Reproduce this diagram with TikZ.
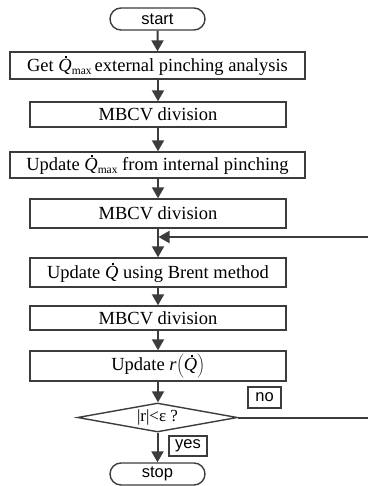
\documentclass[tikz,border=0pt]{standalone}
\usepackage{fontspec}
\setmainfont{Liberation Serif}
\newfontfamily\lsans{Liberation Sans}
\usetikzlibrary{shapes.geometric,shapes.misc,arrows.meta}
\definecolor{ink}{HTML}{3C3C3C}
\newcommand{\Qd}{\hbox{\itshape\rlap{\hspace{0.37em}\raisebox{0.74em}{\rule{0.1em}{0.1em}}}Q}}
\newcommand{\Qmax}{\Qd\raisebox{-0.35ex}{\fontsize{11.5}{12}\selectfont max}}
\begin{document}
\begin{tikzpicture}[x=1pt,y=-1pt,
  box/.style={draw=ink,line width=1.4pt,rectangle,inner sep=0pt,font=\fontsize{18.5}{21}\selectfont},
  term/.style={draw=ink,line width=1.4pt,rounded rectangle,inner sep=0pt,minimum width=95pt,minimum height=22pt,font=\lsans\fontsize{16.5}{18}\selectfont},
  lab/.style={draw=ink,line width=1.2pt,rectangle,inner sep=0pt,font=\lsans\fontsize{16.5}{18}\selectfont},
  arr/.style={draw=ink,line width=2pt,-{Triangle[length=11pt,width=12pt]}},
  ln/.style={draw=ink,line width=2pt}]
\useasboundingbox (0,0) rectangle (368,486);
\node[term] (start) at (157.5,19) {start};
\node[box,minimum width=295pt,minimum height=27pt] (get) at (157.5,65.5) {Get \Qmax\,external pinching analysis};
\node[box,minimum width=256pt,minimum height=25pt] (m1) at (158,114.5) {MBCV division};
\node[box,minimum width=295pt,minimum height=26pt] (uq) at (157.5,165) {Update \Qmax\ from internal pinching};
\node[box,minimum width=256pt,minimum height=29pt] (m2) at (158,213.5) {MBCV division};
\node[box,minimum width=256pt,minimum height=29pt] (brent) at (158,272.5) {Update \Qd\ using Brent method};
\node[box,minimum width=256pt,minimum height=24pt] (m3) at (158,318) {MBCV division};
\node[box,minimum width=256pt,minimum height=30pt] (ur) at (158,366) {Update \textit{r}$\left(\Qd\right)$};
\node[draw=ink,line width=1.4pt,diamond,inner sep=0pt,minimum width=160pt,minimum height=29pt,aspect=5.5,font=\fontsize{17}{19}\selectfont] (dia) at (157.5,417.5) {|r|<ε ?};
\node[term] (stop) at (157.5,474) {stop};
\node[lab,minimum width=33pt,minimum height=21pt] (no) at (264.5,397.5) {no};
\node[lab,minimum width=38pt,minimum height=20pt] (yes) at (188,446) {yes};
\coordinate (noend) at (368,417.5);
\coordinate (loopin) at (368,237);
\coordinate (merge) at (158.5,237);
\draw[arr] (start) -- (get);
\draw[arr] (get.south -| m1.north) -- (m1);
\draw[arr] (m1) -- (m1.north |- uq.north);
\draw[arr] (uq.south -| m2.north) -- (m2);
\draw[arr] (m2) -- (brent);
\draw[arr] (brent) -- (m3);
\draw[arr] (m3) -- (ur);
\draw[arr] (ur) -- (ur.south |- dia.north);
\draw[arr] (dia.south) -- (dia.south |- stop.north);
\draw[ln] (dia.east) -- (noend);
\draw[arr] (loopin) -- (merge);
\end{tikzpicture}
\end{document}
